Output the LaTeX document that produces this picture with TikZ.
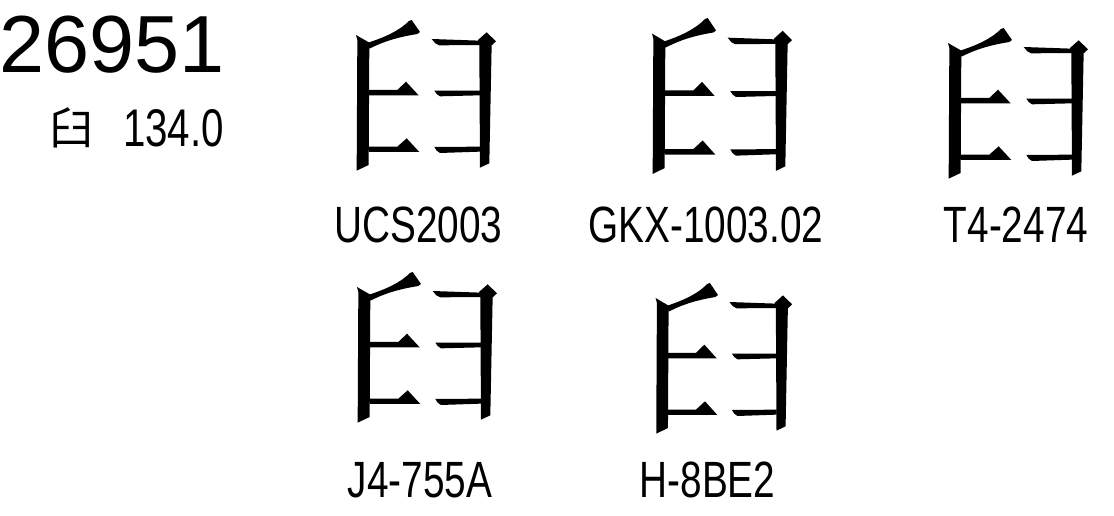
\documentclass[tikz,border=0pt]{standalone}
\usepackage{fontspec}
\setmainfont{Liberation Sans}
\newfontfamily\narrowfont[FakeStretch=0.76]{Liberation Sans}
\newfontfamily\cjkfont{Noto Sans CJK SC}
\newcommand\myglyph{%
    % left vertical stroke
    \fill (48,45) -- (88,68) -- (86,435) -- (50,452) -- (52,60) -- cycle;
    % top slanting stroke
    \fill (84,68) .. controls (140,50) and (180,30) .. (207,3) -- (215,0)
          -- (240,36) -- (232,42) .. controls (170,52) and (130,65) .. (88,86) -- cycle;
    % left middle stroke with dot
    \fill (86,210) -- (172,210) -- (198,185) -- (236,226) -- (86,226) -- cycle;
    % left lower stroke with dot
    \fill (86,380) -- (172,380) -- (200,355) -- (238,396) -- (86,396) -- cycle;
    % right top stroke
    \fill (275,57) -- (420,62) -- (420,75) -- (298,76) -- (286,70) -- cycle;
    % right vertical stroke
    \fill (414,60) -- (440,37) -- (468,64) -- (455,76) -- (448,430) -- (420,443) -- (418,76) -- cycle;
    % right middle stroke
    \fill (283,212) -- (420,212) -- (420,226) -- (300,229) -- (290,222) -- cycle;
    % right lower stroke
    \fill (283,381) -- (420,380) -- (420,395) -- (300,399) -- (290,392) -- cycle;
}
\tikzset{
  lbl/.style={inner sep=0pt, anchor=base, font=\narrowfont\fontsize{51}{51}\selectfont}
}
\begin{document}
\begin{tikzpicture}[x=1pt,y=-1pt]
\useasboundingbox (0,0) rectangle (1114,516);
% header
\node[inner sep=0pt, anchor=base west, font=\fontsize{81}{81}\selectfont] (code) at (-1,73) {26951};
\node[inner sep=0pt, font=\cjkfont\fontsize{44}{44}\selectfont] (rad) at (71,128) {臼};
\node[inner sep=0pt, anchor=base west, font=\narrowfont\fontsize{53}{53}\selectfont] (stroke) at (123,147) {134.0};
% glyphs
\begin{scope}[shift={(340,20)},scale=0.3333] \myglyph \end{scope}
\begin{scope}[shift={(636,18)},xscale=0.3333,yscale=0.345] \myglyph \end{scope}
\begin{scope}[shift={(932,28)},scale=0.3333] \myglyph \end{scope}
\begin{scope}[shift={(341,272)},scale=0.3333] \myglyph \end{scope}
\begin{scope}[shift={(640,283)},xscale=0.325,yscale=0.3333] \myglyph \end{scope}
% labels
\node[lbl] (l1) at (418.5,242) {UCS2003};
\node[lbl] (l2) at (706,242) {GKX-1003.02};
\node[lbl] (l3) at (1016,242) {T4-2474};
\node[lbl] (l4) at (420,497) {J4-755A};
\node[lbl] (l5) at (707.5,497) {H-8BE2};
\end{tikzpicture}
\end{document}
